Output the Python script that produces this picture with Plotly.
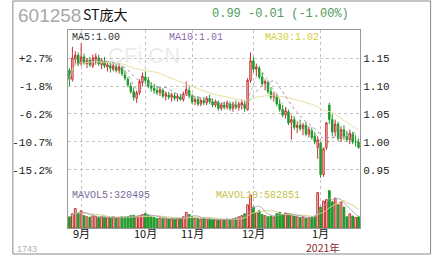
import plotly.graph_objects as go
import pandas as pd

# ---------------- data ----------------
dates = (["2020-08-26", "2020-08-27", "2020-08-28", "2020-08-31"]
         + [f"2020-09-{d:02d}" for d in [1, 2, 3, 4, 7, 8, 9, 10, 11, 14, 15, 16, 17, 18, 21, 22, 23, 24, 25, 28, 29, 30]]
         + [f"2020-10-{d:02d}" for d in [9, 12, 13, 14, 15, 16, 19, 20, 21, 22, 23, 26, 27, 28, 29, 30]]
         + [f"2020-11-{d:02d}" for d in [2, 3, 4, 5, 6, 9, 10, 11, 12, 13, 16, 17, 18, 19, 20, 23, 24, 25, 26, 27, 30]]
         + [f"2020-12-{d:02d}" for d in [1, 2, 3, 4, 7, 8, 9, 10, 11, 14, 15, 16, 17, 18, 21, 22, 23, 24, 25, 28, 29, 30, 31]]
         + [f"2021-01-{d:02d}" for d in [4, 5, 6, 7, 8, 11, 12, 13, 14, 15, 18, 19, 20, 21]])

opens = [1.128, 1.112, 1.148, 1.155, 1.140, 1.152, 1.140, 1.146, 1.136, 1.148,
         1.150, 1.138, 1.144, 1.134, 1.136, 1.130, 1.134, 1.128, 1.132, 1.120,
         1.112, 1.100, 1.090, 1.078, 1.088, 1.106, 1.116, 1.110, 1.100, 1.096,
         1.092, 1.088, 1.092, 1.082, 1.084, 1.080, 1.082, 1.078, 1.080, 1.076,
         1.086, 1.092, 1.082, 1.072, 1.076, 1.068, 1.074, 1.070, 1.078, 1.072,
         1.066, 1.070, 1.060, 1.066, 1.062, 1.068, 1.060, 1.066, 1.062, 1.066,
         1.068, 1.058, 1.110, 1.145, 1.130, 1.132, 1.116, 1.104, 1.106, 1.090,
         1.080, 1.082, 1.068, 1.058, 1.048, 1.054, 1.034, 1.040, 1.026, 1.030,
         1.024, 1.030, 1.014, 1.020, 1.010, 0.990, 0.998, 0.942, 0.990, 1.066,
         1.040, 1.018, 1.032, 1.006, 1.022, 1.010, 1.004, 1.014, 1.000, 1.000]
highs = [1.132, 1.170, 1.162, 1.160, 1.176, 1.158, 1.150, 1.152, 1.156, 1.158,
         1.156, 1.150, 1.152, 1.142, 1.144, 1.142, 1.140, 1.138, 1.136, 1.128,
         1.116, 1.106, 1.098, 1.092, 1.112, 1.124, 1.126, 1.116, 1.106, 1.104,
         1.100, 1.098, 1.096, 1.090, 1.090, 1.088, 1.088, 1.086, 1.086, 1.090,
         1.108, 1.098, 1.086, 1.080, 1.082, 1.078, 1.080, 1.082, 1.084, 1.078,
         1.076, 1.074, 1.070, 1.072, 1.074, 1.072, 1.072, 1.074, 1.072, 1.076,
         1.074, 1.114, 1.160, 1.152, 1.140, 1.136, 1.124, 1.112, 1.110, 1.098,
         1.090, 1.086, 1.076, 1.066, 1.062, 1.058, 1.048, 1.046, 1.036, 1.040,
         1.034, 1.036, 1.028, 1.026, 1.018, 1.010, 1.000, 0.990, 1.036, 1.070,
         1.050, 1.040, 1.036, 1.028, 1.030, 1.020, 1.022, 1.018, 1.012, 1.006]
lows = [1.100, 1.108, 1.138, 1.135, 1.136, 1.138, 1.132, 1.134, 1.132, 1.138,
        1.136, 1.130, 1.132, 1.126, 1.124, 1.126, 1.124, 1.122, 1.118, 1.110,
        1.098, 1.086, 1.074, 1.070, 1.084, 1.100, 1.104, 1.096, 1.090, 1.086,
        1.084, 1.082, 1.078, 1.074, 1.076, 1.072, 1.074, 1.072, 1.074, 1.072,
        1.082, 1.078, 1.068, 1.066, 1.064, 1.064, 1.066, 1.066, 1.068, 1.062,
        1.062, 1.056, 1.056, 1.058, 1.058, 1.056, 1.054, 1.058, 1.056, 1.058,
        1.054, 1.056, 1.106, 1.124, 1.118, 1.112, 1.100, 1.092, 1.086, 1.076,
        1.072, 1.064, 1.054, 1.044, 1.042, 1.030, 1.004, 1.022, 1.016, 1.020,
        1.012, 1.010, 1.008, 1.004, 0.996, 0.970, 0.936, 0.938, 0.986, 1.032,
        1.010, 1.010, 1.002, 1.000, 1.004, 1.000, 0.996, 0.996, 0.992, 0.988]
closes = [1.112, 1.150, 1.155, 1.140, 1.152, 1.142, 1.146, 1.138, 1.150, 1.152,
          1.140, 1.146, 1.136, 1.138, 1.132, 1.136, 1.128, 1.134, 1.122, 1.114,
          1.102, 1.090, 1.080, 1.088, 1.108, 1.118, 1.110, 1.100, 1.096, 1.092,
          1.088, 1.094, 1.082, 1.086, 1.080, 1.084, 1.078, 1.082, 1.076, 1.086,
          1.094, 1.082, 1.072, 1.076, 1.068, 1.074, 1.070, 1.078, 1.072, 1.066,
          1.072, 1.060, 1.066, 1.062, 1.070, 1.060, 1.068, 1.062, 1.068, 1.070,
          1.060, 1.110, 1.145, 1.130, 1.134, 1.116, 1.104, 1.108, 1.090, 1.080,
          1.084, 1.068, 1.058, 1.048, 1.056, 1.034, 1.040, 1.026, 1.030, 1.024,
          1.030, 1.014, 1.022, 1.008, 1.000, 1.004, 0.942, 0.988, 1.034, 1.040,
          1.018, 1.032, 1.006, 1.022, 1.010, 1.004, 1.016, 1.000, 1.000, 0.990]
volumes = [300000, 380000, 520000, 400000, 460000, 330000, 300000, 290000, 320000, 310000,
           280000, 300000, 290000, 270000, 280000, 300000, 260000, 280000, 300000, 290000,
           310000, 330000, 340000, 300000, 330000, 360000, 390000, 350000, 300000, 280000,
           260000, 270000, 250000, 260000, 240000, 250000, 230000, 250000, 260000, 300000,
           420000, 360000, 300000, 260000, 250000, 240000, 250000, 230000, 240000, 230000,
           220000, 210000, 230000, 220000, 240000, 230000, 250000, 270000, 300000, 330000,
           380000, 620000, 880000, 560000, 420000, 460000, 360000, 330000, 300000, 320000,
           300000, 380000, 420000, 360000, 400000, 380000, 340000, 320000, 300000, 280000,
           300000, 260000, 280000, 300000, 320000, 950000, 560000, 720000, 760000, 1000000,
           700000, 800000, 620000, 700000, 560000, 300000, 380000, 320000, 280000, 300000]

month_ticks = ["2020-09-01", "2020-10-09", "2020-11-02", "2020-12-01", "2021-01-04"]
month_labels = ["9月", "10月", "11月", "12月", "1月"]
price_ticks = [0.95, 1.00, 1.05, 1.10, 1.15]
pct_labels = ["-15.2%", "-10.7%", "-6.2%", "-1.8%", "+2.7%"]

# ---------------- derived ----------------
cs = pd.Series(closes)
ma5 = cs.rolling(5, min_periods=1).mean()
ma10 = cs.rolling(10, min_periods=1).mean()
ma30 = cs.rolling(30, min_periods=1).mean()
vs = pd.Series(volumes)
mavol5 = vs.rolling(5, min_periods=1).mean()
mavol10 = vs.rolling(10, min_periods=1).mean()

UP, DN = "#c83030", "#1f9a2a"
vol_fill = ["#f6d0d0" if c >= o else DN for o, c in zip(opens, closes)]
vol_line = [UP if c >= o else DN for o, c in zip(opens, closes)]

# pixel helpers (plot area 58..360 x 30..228)
L, R, T, B = 58, 360, 30, 228
def px(x):
    return (x - L) / (R - L)
def py(y):
    return (B - y) / (B - T)

fig = go.Figure()

fig.add_trace(go.Scatter(x=dates, y=ma30, mode="lines", line=dict(color="#e8e0a4", width=1),
                         hoverinfo="skip", showlegend=False))
fig.add_trace(go.Scatter(x=dates, y=ma10, mode="lines", line=dict(color="#a498b0", width=1, dash="dot"),
                         hoverinfo="skip", showlegend=False))
fig.add_trace(go.Scatter(x=dates, y=ma5, mode="lines", line=dict(color="#8a8a8a", width=0.6, dash="dot"),
                         hoverinfo="skip", showlegend=False))

fig.add_trace(go.Candlestick(
    x=dates, open=opens, high=highs, low=lows, close=closes,
    increasing=dict(line=dict(color=UP, width=1), fillcolor="#fbe8e8"),
    decreasing=dict(line=dict(color=DN, width=1), fillcolor=DN),
    whiskerwidth=0, showlegend=False))

fig.add_trace(go.Bar(x=dates, y=volumes, yaxis="y2",
                     marker=dict(color=vol_fill, line=dict(color=vol_line, width=1)),
                     width=0.6, showlegend=False))
fig.add_trace(go.Scatter(x=dates, y=mavol10, yaxis="y2", mode="lines",
                         line=dict(color="#d8d08a", width=1), showlegend=False))
fig.add_trace(go.Scatter(x=dates, y=mavol5, yaxis="y2", mode="lines",
                         line=dict(color="#a0a0ac", width=0.8), showlegend=False))

prange = [0.8464, 1.20]
fig.update_layout(
    width=436, height=256,
    margin=dict(l=L, r=436 - R, t=T, b=256 - B),
    paper_bgcolor="white", plot_bgcolor="white",
    showlegend=False,
    xaxis=dict(type="category", categoryorder="array", categoryarray=dates,
               range=[-0.5, len(dates) - 0.5], rangeslider=dict(visible=False),
               tickvals=month_ticks, ticktext=month_labels, ticks="", showticklabels=False,
               showgrid=True, gridcolor="#c4c4c4", griddash="dot", gridwidth=1,
               showline=True, linecolor="#9a9a9a", mirror=True, zeroline=False),
    yaxis=dict(range=prange, side="right", tickvals=price_ticks,
               ticktext=[f"{v:.2f}" for v in price_ticks], ticks="",
               showgrid=True, gridcolor="#c4c4c4", griddash="dot",
               tickfont=dict(family="Liberation Mono", size=11, color="#222"),
               showline=True, linecolor="#9a9a9a", mirror=True, zeroline=False),
    yaxis2=dict(range=[0, 5.3e6], overlaying="y", visible=False, fixedrange=True),
    yaxis3=dict(range=prange, overlaying="y", side="left", tickvals=price_ticks,
                ticktext=pct_labels, ticks="outside", ticklen=13, tickcolor="rgba(0,0,0,0)",
                showgrid=False, zeroline=False,
                tickfont=dict(family="Liberation Mono", size=11, color="#222")),
)
# invisible trace so the percentage axis is drawn
fig.add_trace(go.Scatter(x=[dates[0]], y=[1.0], yaxis="y3", mode="markers",
                         marker=dict(opacity=0), hoverinfo="skip", showlegend=False))

ann = []
def text(x, y, s, size, color, family="Liberation Mono", xanchor="left"):
    ann.append(dict(x=px(x), y=py(y), xref="paper", yref="paper", text=s, showarrow=False,
                    xanchor=xanchor, yanchor="middle", font=dict(family=family, size=size, color=color)))

# month labels tied to the category axis
for d, lab in zip(month_ticks, month_labels):
    ann.append(dict(x=d, y=py(233.5), xref="x", yref="paper", text=lab, showarrow=False,
                    xanchor="center", yanchor="middle",
                    font=dict(family="Noto Sans CJK SC", size=11, color="#111")))

text(4, 15, "601258", 19, "#a8a8a8", family="Liberation Sans")
text(71, 14, "ST庞大", 14, "#111", family="Noto Sans CJK SC")
text(205, 14, "0.99 -0.01 (-1.00%)", 12, "#4f9a5a")
text(60, 37, "MA5:1.00", 10, "#333")
text(160, 37, "MA10:1.01", 10, "#8a6aaa")
text(260, 37, "MA30:1.02", 10, "#d6cf3c")
text(60, 195, "MAVOL5:320495", 10, "#7a6a9a")
text(209, 195, "MAVOL10:582851", 10, "#c8c04a")
text(322, 247.5, "2021年", 10.5, "#8b2a2a", family="Noto Sans CJK SC", xanchor="center")
text(3, 249, "1743", 9, "#b0b0b0", family="Liberation Sans")
text(137, 56, "CFi.CN", 22, "rgba(200,200,200,0.35)", family="Liberation Sans", xanchor="center")
fig.update_layout(annotations=ann)

fig.add_shape(type="rect", xref="paper", yref="paper",
              x0=px(1), x1=px(433), y0=py(254), y1=py(1),
              line=dict(color="#8a8a8a", width=1), layer="below")

fig.write_html("out.html")
